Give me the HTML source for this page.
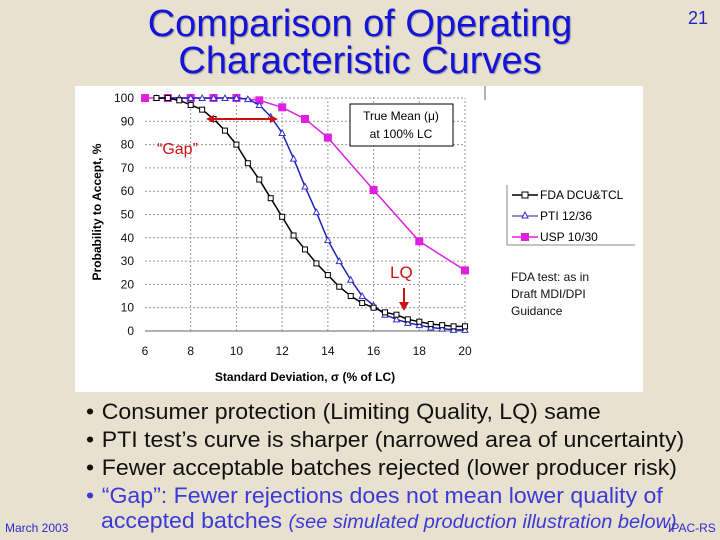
<!DOCTYPE html>
<html><head><meta charset="utf-8"><style>
body{margin:0;width:720px;height:540px;overflow:hidden;background:#e9e1cf;font-family:"Liberation Sans",sans-serif;position:relative}
.t{position:absolute;white-space:nowrap}
.title{color:#1414d8;font-size:38px;text-align:center;width:720px;left:0;text-shadow:1px 1px 1px #9a9a9a;line-height:37px}
.b{font-size:22px;color:#111;left:86px;transform-origin:0 0;transform:scaleX(1.05)}
.b span{display:inline-block;width:15px}
</style></head><body>
<div class="t title" style="top:6px">Comparison of Operating<br>Characteristic Curves</div>
<div class="t" style="left:688px;top:8px;font-size:18px;color:#2222cc">21</div>
<svg width="720" height="540" style="position:absolute;left:0;top:0" id="chart">
<rect x="75" y="86" width="568" height="306" fill="#fff"/>
<g id="grid"></g><g id="series"></g><g id="ticks" font-size="12" fill="#111"></g>
<text x="0" y="0" transform="translate(101,212) rotate(-90)" text-anchor="middle" font-size="12" font-weight="bold">Probability to Accept, %</text>
<text x="305" y="381" text-anchor="middle" font-size="12" font-weight="bold">Standard Deviation, σ (% of LC)</text>
<rect x="350" y="104" width="103" height="42" fill="#fff" stroke="#000"/>
<text x="401" y="120" text-anchor="middle" font-size="12">True Mean (μ)</text>
<text x="401" y="138" text-anchor="middle" font-size="12">at 100% LC</text>
<text x="157" y="154" font-size="16" fill="#cc1111">“Gap”</text>
<g id="gaparrow" stroke="#cc1111" stroke-width="2" fill="#cc1111">
<line x1="212" y1="119" x2="272" y2="119"/><path d="M206,119 l8,-4 v8z M278,119 l-8,-4 v8z" stroke="none"/></g>
<text x="390" y="278" font-size="17" fill="#cc1111">LQ</text>
<g stroke="#cc1111" stroke-width="2" fill="#cc1111"><line x1="404" y1="288" x2="404" y2="302"/><path d="M399,302 h10 l-5,9z" stroke="none"/></g>
<g font-size="12">
<line x1="507" y1="185" x2="507" y2="245" stroke="#888"/><line x1="507" y1="245" x2="635" y2="245" stroke="#888"/>
<line x1="512" y1="195" x2="538" y2="195" stroke="#000" stroke-width="1.5"/><rect x="522" y="192" width="6" height="6" fill="#fff" stroke="#000"/><text x="540" y="199">FDA DCU&amp;TCL</text>
<line x1="512" y1="216" x2="538" y2="216" stroke="#6c6cb0" stroke-width="1.5"/><path d="M525,212 l3,6 h-6z" fill="#fff" stroke="#3333cc"/><text x="540" y="220">PTI 12/36</text>
<line x1="512" y1="237" x2="538" y2="237" stroke="#e020e0" stroke-width="1.5"/><rect x="521" y="233" width="8" height="8" fill="#e020e0"/><text x="540" y="241">USP 10/30</text>
</g>
<text font-size="12" fill="#111"><tspan x="511" y="281">FDA test: as in</tspan><tspan x="511" y="298">Draft MDI/DPI</tspan><tspan x="511" y="315">Guidance</tspan></text>
</svg>
<div class="t b" style="top:399px"><span>•</span>Consumer protection (Limiting Quality, LQ) same</div>
<div class="t b" style="top:427px"><span>•</span>PTI test’s curve is sharper (narrowed area of uncertainty)</div>
<div class="t b" style="top:455px"><span>•</span>Fewer acceptable batches rejected (lower producer risk)</div>
<div class="t b" style="top:483px;color:#3a3ad6"><span>•</span>“Gap”: Fewer rejections does not mean lower quality of</div>
<div class="t b" style="top:508px;color:#3a3ad6;left:101px">accepted batches <i style="font-size:19px">(see simulated production illustration below)</i></div>
<div class="t" style="left:5px;top:521px;font-size:12px;color:#2a2ad0">March 2003</div>
<div class="t" style="left:668px;top:521px;font-size:12px;color:#2a2ad0">IPAC-RS</div>
<script>
const xTicks=[6,8,10,12,14,16,18,20];
const yTicks=[0,10,20,30,40,50,60,70,80,90,100];
const fdaX=[6.5,7,7.5,8,8.5,9,9.5,10,10.5,11,11.5,12,12.5,13,13.5,14,14.5,15,15.5,16,16.5,17,17.5,18,18.5,19,19.5,20];
const fdaY=[100,100,99,97,95,91,86,80,72,65,57,49,41,35,29,24,19,15,12,10,8,7,5,4,3,2.5,2,2];
const ptiX=[6.5,7,7.5,8,8.5,9,9.5,10,10.5,11,11.5,12,12.5,13,13.5,14,14.5,15,15.5,16,16.5,17,17.5,18,18.5,19,19.5,20];
const ptiY=[100,100,100,100,100,100,100,100,99.5,97,92,85,74,62,51,39,30,22,15,11,7,5,3.5,2.5,1.5,1,0.5,0.5];
const uspX=[6,7,8,9,10,11,12,13,14,16,18,20];
const uspY=[100,100,100,100,100,99,96,91,83,60.5,38.5,26];
const X=v=>145+(v-6)*(320/14), Y=v=>331-v*2.33;
const NS='http://www.w3.org/2000/svg';
function mk(p,tag,a){const e=document.createElementNS(NS,tag);for(const k in a)e.setAttribute(k,a[k]);p.appendChild(e);return e;}
const grid=document.getElementById('grid'),ticks=document.getElementById('ticks'),ser=document.getElementById('series');
xTicks.forEach(v=>{if(v>6){const l=mk(grid,'line',{x1:X(v),x2:X(v),y1:Y(0),y2:Y(100),stroke:'#999','stroke-dasharray':'2,2'});

}
const t=mk(ticks,'text',{x:X(v),y:355,'text-anchor':'middle'});t.textContent=v;

});
yTicks.forEach(v=>{const l=mk(grid,'line',{x1:X(6),x2:X(20),y1:Y(v),y2:Y(v),stroke:v==0?'#666':'#999','stroke-dasharray':v==0?'':'2,2'});


const t=mk(ticks,'text',{x:134,y:Y(v)+4,'text-anchor':'end'});t.textContent=v;

});
mk(grid,'line',{x1:485,x2:485,y1:86,y2:100,stroke:'#666'});
function series(xs,ys,color,kind,name){
const pl=mk(ser,'polyline',{points:xs.map((x,i)=>X(x)+','+Y(ys[i])).join(' '),fill:'none',stroke:color,'stroke-width':1.5});


xs.forEach((x,i)=>{const cx=X(x),cy=Y(ys[i]);let m;
if(kind=='sq')m=mk(ser,'rect',{x:cx-2.5,y:cy-2.5,width:5,height:5,fill:'#fff',stroke:'#000'});
else if(kind=='tri')m=mk(ser,'path',{d:`M${cx},${cy-3} l3,5.5 h-6z`,fill:'#fff',stroke:'#3333cc'});
else m=mk(ser,'rect',{x:cx-4,y:cy-4,width:8,height:8,fill:'#e020e0'});

});}
series(uspX,uspY,'#e020e0','fill','usp');
series(ptiX,ptiY,'#2222bb','tri','pti');
series(fdaX,fdaY,'#000','sq','fda');
</script>
</body></html>
